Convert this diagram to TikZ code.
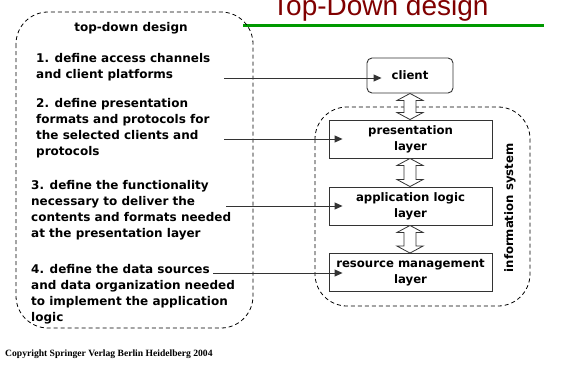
\documentclass[tikz,border=0pt]{standalone}
\usepackage{fontspec}
\setmainfont{DejaVu Sans}
\newfontfamily\titlefont{Liberation Sans}
\newfontfamily\copyfont{Liberation Serif}
\usetikzlibrary{calc,arrows.meta}
\definecolor{titlered}{RGB}{128,0,0}
\definecolor{rulegreen}{RGB}{0,153,0}
\definecolor{linegray}{RGB}{51,51,51}
\tikzset{
  ltext/.style={anchor=base west, inner sep=0pt, align=left,
    font=\bfseries\fontsize{12}{16}\selectfont},
  layerbox/.style={draw=linegray, line width=0.9pt, minimum width=163pt,
    minimum height=38pt, inner sep=0pt, align=center,
    font=\bfseries\fontsize{11.7}{16}\selectfont},
  ptr/.style={draw=linegray, line width=0.9pt, -{Triangle[length=8pt,width=7pt]}},
  dashbox/.style={draw=black, line width=0.8pt, dash pattern=on 4pt off 3pt,
    rounded corners=32pt},
  blockarrow/.style={draw=linegray, fill=white, line width=0.8pt, line join=miter},
}
\begin{document}
\begin{tikzpicture}[x=1pt,y=-1pt]
\useasboundingbox (0,0) rectangle (561,375);
% title
\node[anchor=base west, inner sep=0pt, text=titlered,
  font=\titlefont\fontsize{28}{30}\selectfont] (title) at (272,15) {Top-Down design};
\draw[rulegreen, line width=3pt] (243,25) -- (544,25);
% left dashed box
\draw[dashbox] (16,12) rectangle (253,328);
\node[anchor=base, inner sep=0pt, font=\bfseries\fontsize{12}{16}\selectfont]
  (head) at (131,31) {top-down design};
% multi-line nodes: base anchor is the baseline of the last line
\node[ltext] (p1) at (36,78) {1. define access channels\\and client platforms};
\node[ltext] (p2) at (36,155) {2. define presentation\\formats and protocols for\\the selected clients and\\protocols};
\node[ltext] (p3) at (31,237) {3. define the functionality\\necessary to deliver the\\contents and formats needed\\at the presentation layer};
\node[ltext] (p4) at (31,321) {4. define the data sources\\and data organization needed\\to implement the application\\logic};
% right dashed box
\draw[dashbox] (315,107) rectangle (530,306);
\node[rotate=90, inner sep=0pt, font=\bfseries\fontsize{11.7}{16}\selectfont]
  (infosys) at (510,208) {information system};
% boxes
\node[layerbox, minimum width=86pt, minimum height=35pt, rounded corners=5pt]
  (client) at (410,75.5) {client};
\node[layerbox] (pres) at (410.5,139) {presentation\\layer};
\node[layerbox] (app) at (410.5,206) {application logic\\layer};
\node[layerbox] (res) at (410.5,272.5) {resource management\\layer};
% block double arrows
\foreach \a/\b in {client/pres, pres/app, app/res}{
  \draw[blockarrow] let \p1=(\a.south), \p2=(\b.north) in
    (410pt,\y1) -- (423pt,\y1-7pt) -- (416pt,\y1-7pt) -- (416pt,\y2+7pt)
    -- (423pt,\y2+7pt) -- (410pt,\y2) -- (397pt,\y2+7pt) -- (404pt,\y2+7pt)
    -- (404pt,\y1-7pt) -- (397pt,\y1-7pt) -- cycle;
}
% pointer arrows
\coordinate (s1) at (224,78);
\coordinate (s2) at (224,139);
\coordinate (s3) at (226,206);
\coordinate (s4) at (213,273);
\draw[ptr] (s1) -- ([xshift=15pt]client.west |- s1);
\draw[ptr] (s2) -- ([xshift=14pt]pres.west |- s2);
\draw[ptr] (s3) -- ([xshift=14pt]app.west |- s3);
\draw[ptr] (s4) -- ([xshift=14pt]res.west |- s4);
% copyright
\node[anchor=base west, inner sep=0pt, font=\copyfont\bfseries\fontsize{9.6}{11}\selectfont]
  (copy) at (5,356) {Copyright Springer Verlag Berlin Heidelberg 2004};
\end{tikzpicture}
\end{document}
